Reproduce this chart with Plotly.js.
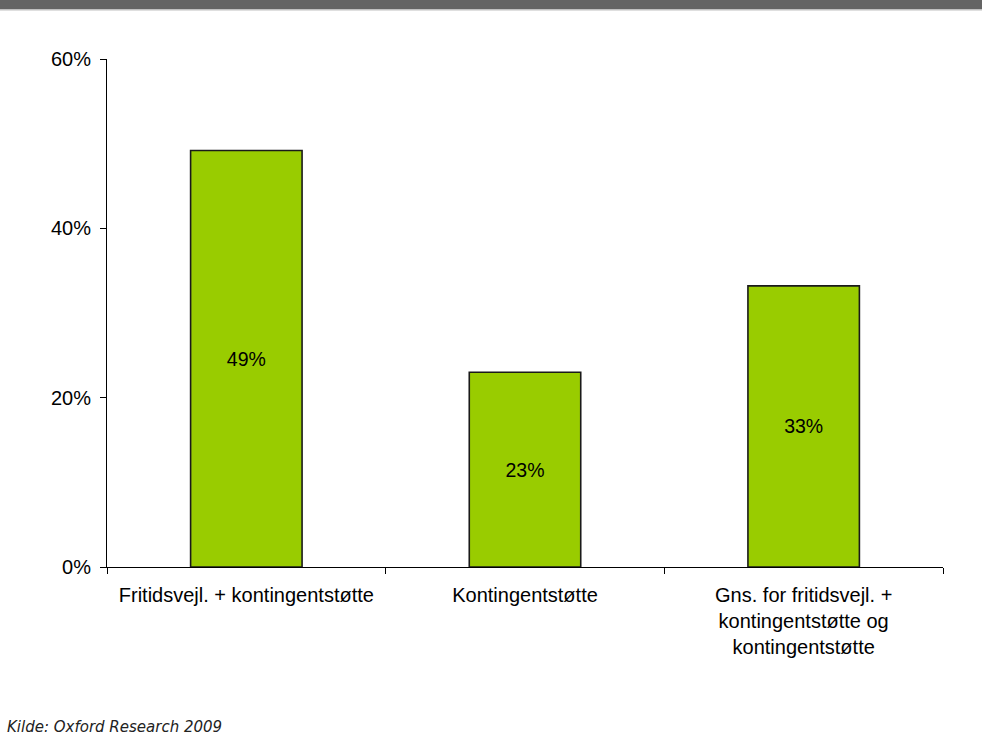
<!DOCTYPE html>
<html>
<head>
<meta charset="utf-8">
<script src="https://cdn.plot.ly/plotly-3.0.1.min.js"></script>
<style>html,body{margin:0;padding:0;background:#fff;}#chart{width:982px;height:736px;}</style>
</head>
<body>
<div id="chart"></div>
<script>
var categories = ["Fritidsvejl. + kontingentstøtte", "Kontingentstøtte", "Gns. for fritidsvejl. +<br>kontingentstøtte og<br>kontingentstøtte"];
var values = [49.2, 23.0, 33.2];
var yTicks = [0, 20, 40, 60];
var yTickLabels = ["0%", "20%", "40%", "60%"];
var sourceText = "Kilde: Oxford Research 2009";

var font = "Liberation Sans, Arial, sans-serif";

var trace = {
  type: "bar",
  x: categories,
  y: values,
  texttemplate: "%{y:.0f}%",
  textposition: "inside",
  insidetextanchor: "middle",
  textangle: 0,
  insidetextfont: {family: font, size: 19.5, color: "#000"},
  marker: {color: "#99CC00", line: {color: "#1a1a1a", width: 1.6}},
  hoverinfo: "none"
};

var L = 107, R = 39, T = 59, B = 169;
var plotH = 736 - T - B;
function py(pix){ return (736 - B - pix) / plotH; }
function px(pix){ return (pix - L) / (982 - L - R); }

var layout = {
  width: 982, height: 736,
  margin: {l: L, r: R, t: T, b: B},
  paper_bgcolor: "#fff", plot_bgcolor: "#fff",
  bargap: 0.6,
  showlegend: false,
  font: {family: font, size: 20, color: "#000"},
  xaxis: {
    type: "category",
    showline: true, linecolor: "#000", linewidth: 1,
    ticks: "outside", tickson: "boundaries", ticklen: 6, tickcolor: "#000",
    showgrid: false, zeroline: false,
    ticklabelstandoff: 10,
    tickfont: {family: font, size: 20, color: "#000"}
  },
  yaxis: {
    range: [0, 60],
    tickvals: yTicks, ticktext: yTickLabels,
    showline: true, linecolor: "#000", linewidth: 1,
    ticks: "outside", ticklen: 6, tickcolor: "#000",
    showgrid: false, zeroline: false,
    ticklabelstandoff: 5,
    tickfont: {family: font, size: 20, color: "#000"}
  },
  shapes: [
    {type: "rect", xref: "paper", yref: "paper", x0: px(-5), x1: px(990), y0: py(9), y1: py(-5), fillcolor: "#646464", line: {width: 0}, layer: "above"},
    {type: "rect", xref: "paper", yref: "paper", x0: px(-5), x1: px(990), y0: py(10.5), y1: py(9), fillcolor: "#c0c0c0", line: {width: 0}, layer: "above"}
  ],
  annotations: [
    {text: sourceText, xref: "paper", yref: "paper", x: px(6), y: py(737), xanchor: "left", yanchor: "bottom", showarrow: false, borderpad: 0,
     font: {family: "DejaVu Sans, Verdana, sans-serif", size: 15, color: "#222", style: "italic"}}
  ]
};

Plotly.newPlot("chart", [trace], layout, {staticPlot: true, displayModeBar: false});
</script>
</body>
</html>
